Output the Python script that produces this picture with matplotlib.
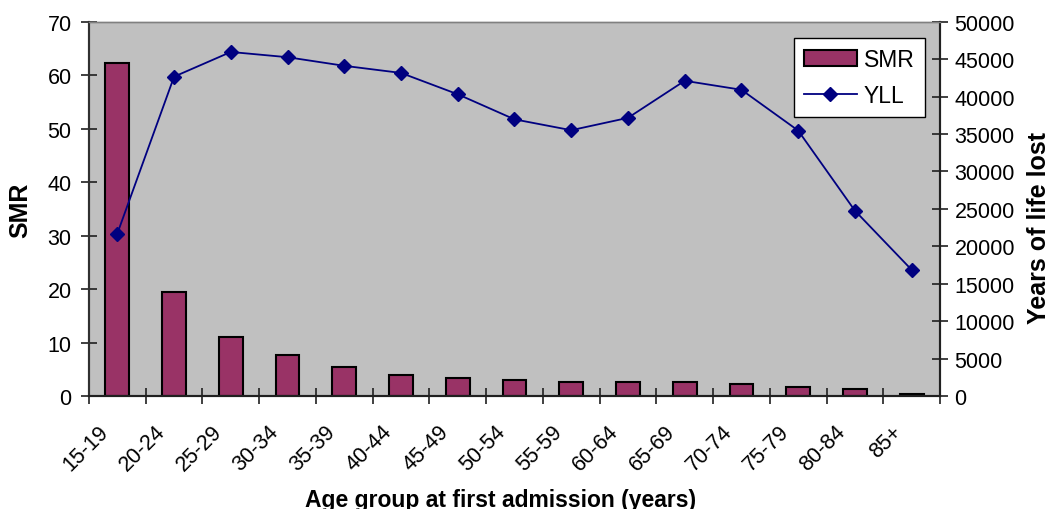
import numpy as np
import matplotlib
matplotlib.use('Agg')
import matplotlib.pyplot as plt
from matplotlib.ticker import MultipleLocator, FixedLocator

plt.rcParams['font.family'] = ['Liberation Sans', 'DejaVu Sans']

# age groups at first admission
ages = ['15-19', '20-24', '25-29', '30-34', '35-39', '40-44', '45-49', '50-54',
        '55-59', '60-64', '65-69', '70-74', '75-79', '80-84', '85+']
# standardised mortality ratio per age group
smr = [62.3, 19.4, 11.0, 7.65, 5.35, 3.9, 3.3, 3.05, 2.65, 2.65, 2.65, 2.3, 1.6, 1.35, 0.3]
# years of life lost per age group
yll = [21700, 42650, 45950, 45250, 44100, 43150, 40300, 36950, 35500, 37150,
       42100, 40900, 35450, 24750, 16850]

x = np.arange(len(ages))

fig = plt.figure(figsize=(10.53, 5.10), dpi=100)
ax = fig.add_axes([0.0845, 0.2216, 0.8082, 0.734])
ax.set_facecolor('#C0C0C0')

bars = ax.bar(x, smr, width=0.42, color='#993366', edgecolor='black', linewidth=1.5,
              label='SMR', zorder=2)
ax.set_xlim(-0.5, len(ages) - 0.5)
ax.set_ylim(0, 70)
ax.yaxis.set_major_locator(MultipleLocator(10))

ax2 = ax.twinx()
line, = ax2.plot(x, yll, color='#000080', linewidth=1.3, marker='D', markersize=7,
                 label='YLL')
ax2.set_ylim(0, 50000)
ax2.yaxis.set_major_locator(MultipleLocator(5000))

# rotated labels sit a little left of each category centre,
# tick marks go on the category boundaries
ax.set_xticks(x - 0.35)
ax.set_xticklabels(ages, rotation=45, ha='right', va='top', rotation_mode='anchor')
ax.xaxis.set_minor_locator(FixedLocator(np.arange(-0.5, len(ages), 1.0)))
ax.tick_params(axis='x', which='major', length=0, pad=18, labelsize=15.5)
ax.tick_params(axis='x', which='minor', direction='inout', length=11, width=1.2, color='#202020')
ax.tick_params(axis='y', direction='inout', length=11, width=1.2, labelsize=15.5, pad=7, color='#202020')
ax2.tick_params(axis='y', direction='inout', length=11, width=1.2, labelsize=15.5, pad=5, color='#202020')

for a in (ax, ax2):
    a.spines['left'].set_color('#303030')
    a.spines['bottom'].set_color('#202020')
    a.spines['right'].set_color('#202020')
    a.spines['top'].set_color('#808080')
    for s in ('left', 'bottom', 'right'):
        a.spines[s].set_linewidth(1.5)
    a.spines['top'].set_linewidth(1.0)

fig.text(0.019, 0.588, 'SMR', rotation=90, ha='center', va='center',
         fontsize=18, fontweight='bold')
fig.text(0.987, 0.552, 'Years of life lost', rotation=90, ha='center', va='center',
         fontsize=18, fontweight='bold')
fig.text(0.475, 0.006, 'Age group at first admission (years)', ha='center', va='baseline',
         fontsize=16.5, fontweight='bold')

leg = ax2.legend([bars, line], ['SMR', 'YLL'], loc='upper right',
                 bbox_to_anchor=(0.982, 0.956), borderaxespad=0, fontsize=16.5,
                 fancybox=False, framealpha=1, edgecolor='black', handlelength=2.3,
                 labelspacing=0.55, borderpad=0.45, handletextpad=0.3)
leg.get_frame().set_linewidth(1.0)

fig.savefig('out.png', dpi=100)
